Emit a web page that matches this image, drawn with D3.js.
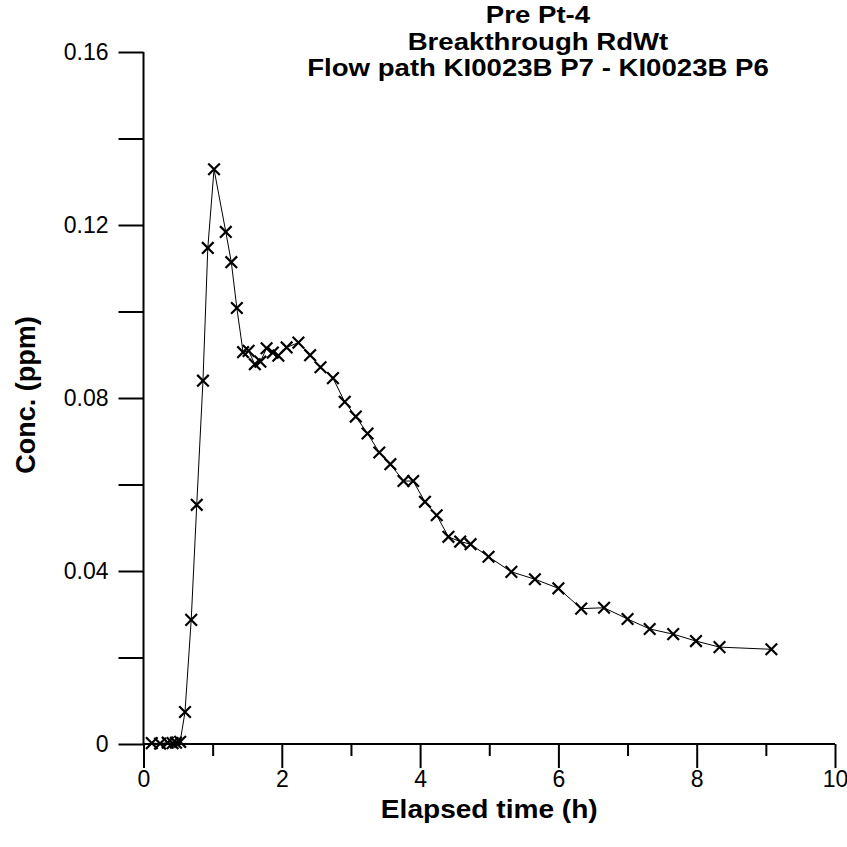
<!DOCTYPE html>
<html>
<head>
<meta charset="utf-8">
<script src="https://cdn.jsdelivr.net/npm/d3@7"></script>
<style>
html,body{margin:0;padding:0;background:#fff;}
svg{display:block;}
text{font-family:"Liberation Sans",Arial,sans-serif;fill:#000;}
</style>
</head>
<body>
<svg id="chart" width="847" height="847"></svg>
<script>
// Data
const timeH = [0.12,0.24,0.35,0.42,0.47,0.53,0.60,0.69,0.77,0.86,0.93,1.02,1.19,1.27,1.35,1.44,1.52,1.61,1.69,1.78,1.87,1.95,2.07,2.24,2.41,2.56,2.74,2.91,3.07,3.24,3.41,3.57,3.76,3.90,4.07,4.24,4.41,4.58,4.73,4.99,5.32,5.66,6.00,6.33,6.66,7.00,7.32,7.66,7.99,8.33,9.08];
const concPpm = [0.0002,0.0001,0.0003,0.0002,0.0003,0.0005,0.0074,0.0287,0.0553,0.0840,0.1147,0.1329,0.1184,0.1114,0.1008,0.0906,0.0909,0.0878,0.0884,0.0915,0.0905,0.0898,0.0917,0.0928,0.0899,0.0871,0.0846,0.0791,0.0757,0.0718,0.0674,0.0647,0.0608,0.0608,0.0560,0.0529,0.0479,0.0468,0.0462,0.0433,0.0398,0.0381,0.0360,0.0313,0.0315,0.0289,0.0266,0.0254,0.0238,0.0224,0.0219];
const xTickLabels = [0,2,4,6,8,10];
const xMinorTicks = [1,3,5,7,9];
const yTickLabels = [0,0.04,0.08,0.12,0.16];
const yMinorTicks = [0.02,0.06,0.10,0.14];
const titleLines = ["Pre Pt-4","Breakthrough RdWt","Flow path KI0023B P7 - KI0023B P6"];
const xLabel = "Elapsed time (h)";
const yLabel = "Conc. (ppm)";

const svg = d3.select("#chart");
const L = 143.5, R = 835, T = 52, B = 744;
const x = d3.scaleLinear().domain([0,10]).range([L,R]);
const y = d3.scaleLinear().domain([0,0.16]).range([B,T]);
const FONT = "'Liberation Sans',Arial,sans-serif";

// X axis: major ticks
const gx = svg.append("g").attr("transform",`translate(0,${B})`)
  .call(d3.axisBottom(x).tickValues(xTickLabels).tickSize(24).tickPadding(3).tickFormat(d3.format("d")));
gx.select(".domain").remove();
gx.selectAll(".tick line").attr("stroke","#000").attr("stroke-width",2);
gx.selectAll(".tick text").style("font-size","23px").style("font-family",FONT).attr("fill","#000");
const gxm = svg.append("g").attr("transform",`translate(0,${B})`)
  .call(d3.axisBottom(x).tickValues(xMinorTicks).tickSize(12).tickFormat(""));
gxm.select(".domain").remove();
gxm.selectAll(".tick line").attr("stroke","#000").attr("stroke-width",2);

// Y axis
const gy = svg.append("g").attr("transform",`translate(${L},0)`)
  .call(d3.axisLeft(y).tickValues(yTickLabels).tickSize(25).tickPadding(10)
    .tickFormat(d => d===0 ? "0" : d3.format(".2f")(d)));
gy.select(".domain").remove();
gy.selectAll(".tick line").attr("stroke","#000").attr("stroke-width",2);
gy.selectAll(".tick text").style("font-size","23px").style("font-family",FONT).attr("fill","#000");
const gym = svg.append("g").attr("transform",`translate(${L},0)`)
  .call(d3.axisLeft(y).tickValues(yMinorTicks).tickSize(25).tickFormat(""));
gym.select(".domain").remove();
gym.selectAll(".tick line").attr("stroke","#000").attr("stroke-width",2);

// axis lines
svg.append("line").attr("x1",L).attr("x2",R).attr("y1",B).attr("y2",B).attr("stroke","#000").attr("stroke-width",2);
svg.append("line").attr("x1",L).attr("x2",L).attr("y1",T).attr("y2",B).attr("stroke","#000").attr("stroke-width",2);

// connecting line
const line = d3.line().x((d,i)=>x(timeH[i])).y((d,i)=>y(concPpm[i]));
svg.append("path").datum(concPpm).attr("d",line).attr("fill","none").attr("stroke","#000").attr("stroke-width",1);

// cross markers
const s = 5.8;
svg.append("g").selectAll("path").data(concPpm).join("path")
  .attr("d",(c,i)=>{const cx=x(timeH[i]), cy=y(c);
    return `M${cx-s},${cy-s}L${cx+s},${cy+s}M${cx-s},${cy+s}L${cx+s},${cy-s}`;})
  .attr("stroke","#000").attr("stroke-width",2.2).attr("fill","none");

// titles (slightly widened bold face, tightly stacked as in the reference)
const titleBase = [23,49.5,76];
titleLines.forEach((t,i)=>{
  svg.append("text").attr("transform",`translate(538,${titleBase[i]}) scale(1.15,1)`)
    .attr("text-anchor","middle")
    .style("font-size","24px").style("font-weight","bold").text(t);
});
svg.append("text").attr("transform",`translate(${(L+R)/2},818) scale(1.08,1)`).attr("text-anchor","middle")
  .style("font-size","26px").style("font-weight","bold").text(xLabel);
svg.append("text").attr("transform",`translate(35,395) rotate(-90)`).attr("text-anchor","middle")
  .style("font-size","27px").style("font-weight","bold").text(yLabel);
</script>
</body>
</html>
